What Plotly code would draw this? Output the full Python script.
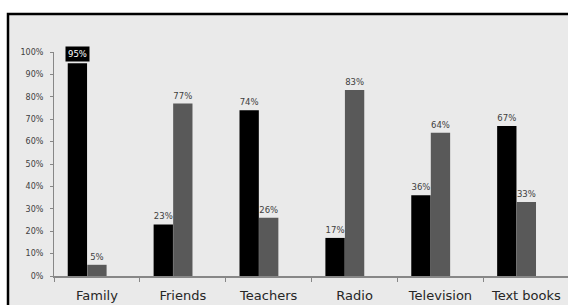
import plotly.graph_objects as go

categories = ["Family", "Friends", "Teachers", "Radio", "Television", "Text books"]
series_a = [95, 23, 74, 17, 36, 67]
series_b = [5, 77, 26, 83, 64, 33]
y_ticks = [0, 10, 20, 30, 40, 50, 60, 70, 80, 90, 100]
y_tick_labels = [f"{v}%" for v in y_ticks]

W, H = 568, 305
ML, MR, MT, MB = 54, 0, 52, 29
XR = [-0.5, 5.485]
unit = (W - ML - MR) / (XR[1] - XR[0])
bw = 0.225
off_a = -0.34
off_b = -0.1125

font = "DejaVu Sans"
text_a = ["" if i == 0 else f"{v}%" for i, v in enumerate(series_a)]
text_b = [f"{v}%" for v in series_b]

fig = go.Figure()
fig.add_trace(go.Bar(x=categories, y=series_a, width=bw, offset=off_a,
                     marker=dict(color="#000000", line=dict(width=0)),
                     text=text_a, textposition="outside", cliponaxis=False,
                     textfont=dict(family=font, size=8.5, color="#404040"),
                     hoverinfo="skip"))
fig.add_trace(go.Bar(x=categories, y=series_b, width=bw, offset=off_b,
                     marker=dict(color="#595959", line=dict(width=0)),
                     text=text_b, textposition="outside", cliponaxis=False,
                     textfont=dict(family=font, size=8.5, color="#404040"),
                     hoverinfo="skip"))

# highlighted label for Family first series
fig.add_annotation(x=categories[0], y=series_a[0], text=f"{series_a[0]}%",
                   xshift=(off_a + bw / 2) * unit, yshift=1, yanchor="bottom",
                   showarrow=False, bgcolor="#000000", borderpad=2,
                   font=dict(family=font, size=8.5, color="#FFFFFF"))

# outer frame (coordinates in figure pixels)
px = lambda x: (x - ML) / (W - ML - MR)
py = lambda y: ((H - MB) - y) / (H - MT - MB)
fig.add_shape(type="rect", xref="paper", yref="paper",
              x0=px(8), x1=px(W + 40), y0=py(H + 40), y1=py(14),
              line=dict(color="#000000", width=2.5), fillcolor="#EAEAEA",
              layer="below")

fig.update_layout(
    width=W, height=H, barmode="overlay",
    margin=dict(l=ML, r=MR, t=MT, b=MB, pad=0),
    paper_bgcolor="#FFFFFF", plot_bgcolor="#EAEAEA",
    showlegend=False,
    font=dict(family=font, color="#262626"),
)
fig.update_xaxes(range=XR, type="category", tickson="boundaries",
                 ticks="outside", ticklen=4, tickcolor="#878787", tickwidth=1,
                 showline=True, linecolor="#878787", linewidth=1.5,
                 showgrid=False, zeroline=False,
                 tickfont=dict(family=font, size=13, color="#262626"),
                 ticklabelstandoff=7)
fig.update_yaxes(range=[0, 100], tickvals=y_ticks, ticktext=y_tick_labels,
                 ticks="outside", ticklen=3, tickcolor="#878787", tickwidth=1,
                 showline=True, linecolor="#878787", linewidth=1,
                 showgrid=False, zeroline=False,
                 tickfont=dict(family=font, size=8, color="#404040"),
                 ticklabelstandoff=5)

fig.write_html(
    "out.html",
    config={"displayModeBar": False, "staticPlot": True},
    post_script="document.body.style.margin='0';document.body.style.overflow='hidden';",
)
